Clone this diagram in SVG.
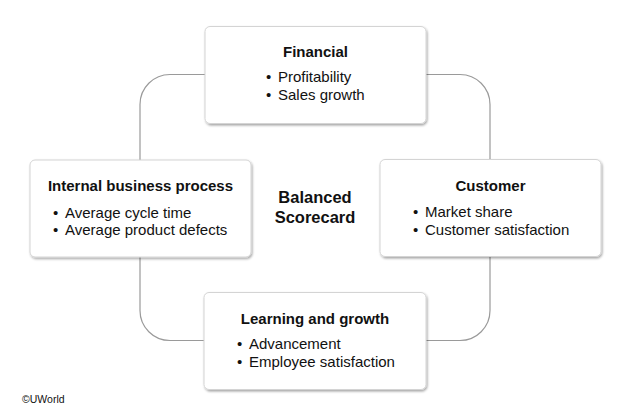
<svg xmlns="http://www.w3.org/2000/svg" width="634" height="416" viewBox="0 0 634 416">
<defs>
<filter id="sh" x="-10%" y="-10%" width="120%" height="130%">
<feDropShadow dx="1" dy="1.5" stdDeviation="1.3" flood-color="#000" flood-opacity="0.35"/>
</filter>
<style>
.box{fill:#fff;stroke:#d4d4d4;stroke-width:1;filter:url(#sh)}
.loop{fill:none;stroke:#9a9a9a;stroke-width:1.2}
text{font-family:"Liberation Sans",Arial,sans-serif;fill:#111}
.t{font-size:15px;font-weight:bold;text-anchor:middle}
.b{font-size:15px}
.c{font-size:16.5px;font-weight:bold;text-anchor:middle}
.cr{font-size:10.5px}
</style>
</defs>
<rect width="634" height="416" fill="#fff"/>
<g id="connectors">
<rect class="loop" x="140" y="74.5" width="350" height="266" rx="30" ry="30"/>
</g>
<g id="financial">
<rect class="box" x="205" y="26.5" width="221" height="97" rx="5"/>
<text class="t" x="315.5" y="57">Financial</text>
<text class="b" y="82"><tspan x="266">•</tspan><tspan x="278">Profitability</tspan></text>
<text class="b" y="99.5"><tspan x="266">•</tspan><tspan x="278">Sales growth</tspan></text>
</g>
<g id="internal">
<rect class="box" x="30" y="160" width="221" height="97" rx="5"/>
<text class="t" x="140.5" y="191">Internal business process</text>
<text class="b" y="217.5"><tspan x="53">•</tspan><tspan x="65">Average cycle time</tspan></text>
<text class="b" y="235"><tspan x="53">•</tspan><tspan x="65">Average product defects</tspan></text>
</g>
<g id="customer">
<rect class="box" x="380" y="159.5" width="221" height="97" rx="5"/>
<text class="t" x="490.5" y="190.5">Customer</text>
<text class="b" y="217"><tspan x="413">•</tspan><tspan x="425">Market share</tspan></text>
<text class="b" y="234.5"><tspan x="413">•</tspan><tspan x="425">Customer satisfaction</tspan></text>
</g>
<g id="learning">
<rect class="box" x="204" y="292.5" width="222" height="97" rx="5"/>
<text class="t" x="315" y="323.5">Learning and growth</text>
<text class="b" y="348.5"><tspan x="237">•</tspan><tspan x="249">Advancement</tspan></text>
<text class="b" y="366.5"><tspan x="237">•</tspan><tspan x="249">Employee satisfaction</tspan></text>
</g>
<g id="center">
<text class="c" x="315" y="203">Balanced</text>
<text class="c" x="315" y="223">Scorecard</text>
</g>
<text class="cr" x="22" y="403">©UWorld</text>
</svg>
